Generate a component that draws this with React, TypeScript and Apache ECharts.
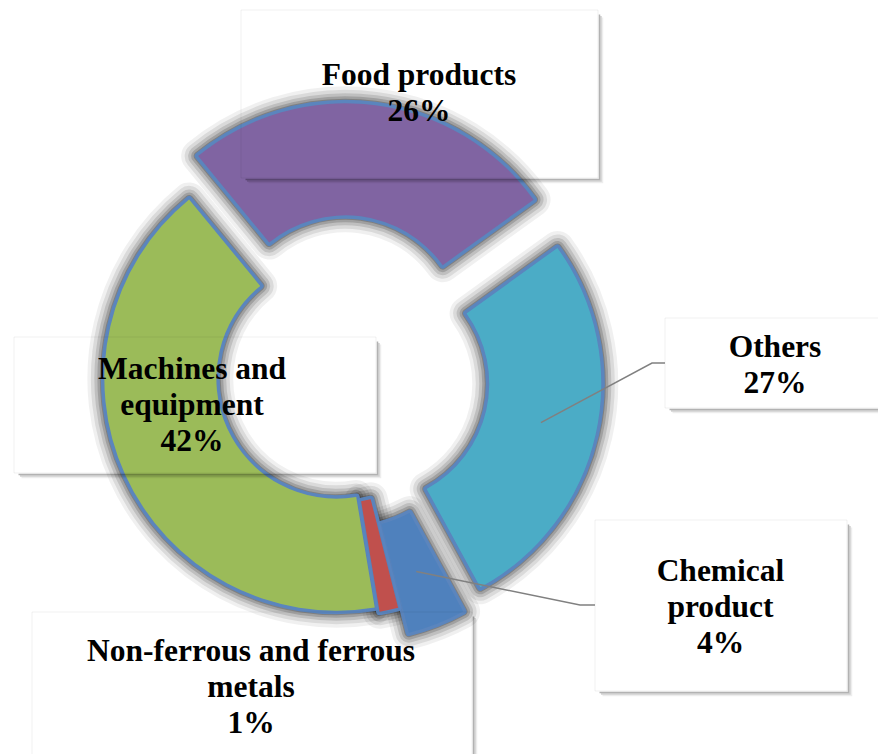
import React, { useEffect, useRef } from "react";
import * as echarts from "echarts";

// ---- data ----
const categories = [
  "Food products",
  "Others",
  "Chemical product",
  "Non-ferrous and ferrous metals",
  "Machines and equipment",
];
const shares = [26, 27, 4, 1.3, 41.7];
const wrappedNames = [
  "Food products",
  "Others",
  "Chemical\nproduct",
  "Non-ferrous and ferrous\nmetals",
  "Machines and\nequipment",
];

// ---- style / layout ----
const COLORS = ["#8064A2", "#4BACC6", "#4F81BD", "#C0504D", "#9BBB59"];
const EXPLODE = [42, 30, 33, 6, 4];
const CX = 340;
const CY = 377;
const R_IN = 120;
const R_OUT = 232;
const START = 129.4;
const OUTLINE = "rgba(88,133,192,0.95)";
const GLOW = [
  [34, 0.06],
  [27, 0.09],
  [20, 0.12],
  [14, 0.16],
  [9, 0.2],
];
const LABEL_POS = [
  [419, 92],
  [775, 364.5],
  [720.5, 606],
  [251, 686.5],
  [192, 404.5],
];
const BOXES = [
  [241, 10, 357, 168],
  [665, 318, 240, 90],
  [595, 520, 252, 171],
  [32, 612, 440, 170],
  [14, 337, 362, 136],
];
const LEADERS: Record<number, number[][]> = {
  1: [
    [652, 363],
    [665, 363],
  ],
  2: [
    [580, 605],
    [595, 605],
  ],
};

export default function App() {
  const ref = useRef<HTMLDivElement>(null);
  useEffect(() => {
    document.body.style.margin = "0";
    const chart = echarts.init(ref.current!, undefined, { renderer: "svg" });
    const total = shares.reduce((a, b) => a + b, 0);
    const startCW = 90 - START;
    let acc = 0;
    const mids = shares.map((v) => {
      const m = startCW + ((acc + v / 2) / total) * 360;
      acc += v;
      return (m * Math.PI) / 180;
    });
    const centers = mids.map((m, i) => [
      CX + EXPLODE[i] * Math.sin(m),
      CY - EXPLODE[i] * Math.cos(m),
    ]);

    const layer = (i: number, z: number, style: any) => ({
      type: "pie",
      silent: true,
      center: centers[i],
      radius: [R_IN, R_OUT],
      startAngle: START,
      clockwise: true,
      avoidLabelOverlap: false,
      label: { show: false },
      labelLine: { show: false },
      emphasis: { disabled: true },
      z,
      data: shares.map((v, j) => ({
        value: v,
        name: categories[j],
        itemStyle:
          j === i ? style : { color: "rgba(0,0,0,0)", borderWidth: 0 },
      })),
    });

    const series: any[] = [];
    shares.forEach((_, i) => {
      GLOW.forEach(([w, a]) => {
        series.push(
          layer(i, 1, {
            color: "rgba(0,0,0,0)",
            borderColor: `rgba(0,0,0,${a})`,
            borderWidth: w,
            borderJoin: "round",
          })
        );
      });
    });
    shares.forEach((_, i) => {
      series.push(
        layer(i, 2, {
          color: COLORS[i],
          borderColor: OUTLINE,
          borderWidth: 7,
          borderJoin: "round",
        })
      );
    });
    shares.forEach((_, i) => {
      series.push(layer(i, 3, { color: COLORS[i], borderWidth: 0 }));
    });

    const graphics: any[] = [];
    BOXES.forEach(([x, y, w, h]) => {
      graphics.push({
        type: "rect",
        z: 50,
        silent: true,
        shape: { x, y, width: w, height: h },
        style: { fill: "none", stroke: "rgba(0,0,0,0.06)", lineWidth: 1 },
      });
      [
        [1.5, 0.3],
        [3, 0.18],
        [4.5, 0.07],
      ].forEach(([o, a]) => {
        graphics.push({
          type: "polyline",
          z: 50,
          silent: true,
          shape: {
            points: [
              [x + w + o, y + 3 + o],
              [x + w + o, y + h + o],
              [x + 3 + o, y + h + o],
            ],
          },
          style: {
            fill: "none",
            stroke: `rgba(0,0,0,${a})`,
            lineWidth: 1.5,
          },
        });
      });
    });
    Object.keys(LEADERS).forEach((k) => {
      const i = Number(k);
      const rm = (R_IN + R_OUT) / 2;
      const sx = centers[i][0] + rm * Math.sin(mids[i]);
      const sy = centers[i][1] - rm * Math.cos(mids[i]);
      graphics.push({
        type: "polyline",
        z: 60,
        silent: true,
        shape: { points: [[sx, sy], ...LEADERS[i]] },
        style: { fill: "none", stroke: "#808080", lineWidth: 1.5 },
      });
    });
    shares.forEach((v, i) => {
      graphics.push({
        type: "text",
        z: 70,
        silent: true,
        style: {
          text: `${wrappedNames[i]}\n${Math.round(v)}%`,
          x: LABEL_POS[i][0],
          y: LABEL_POS[i][1],
          align: "center",
          verticalAlign: "middle",
          fill: "#000",
          fontFamily: "Liberation Serif",
          fontWeight: "bold",
          fontSize: 31.5,
          lineHeight: 36,
        },
      });
    });

    chart.setOption({
      animation: false,
      backgroundColor: "#ffffff",
      series,
      graphic: graphics,
    });
    return () => chart.dispose();
  }, []);
  return <div ref={ref} style={{ width: 878, height: 754 }} />;
}
